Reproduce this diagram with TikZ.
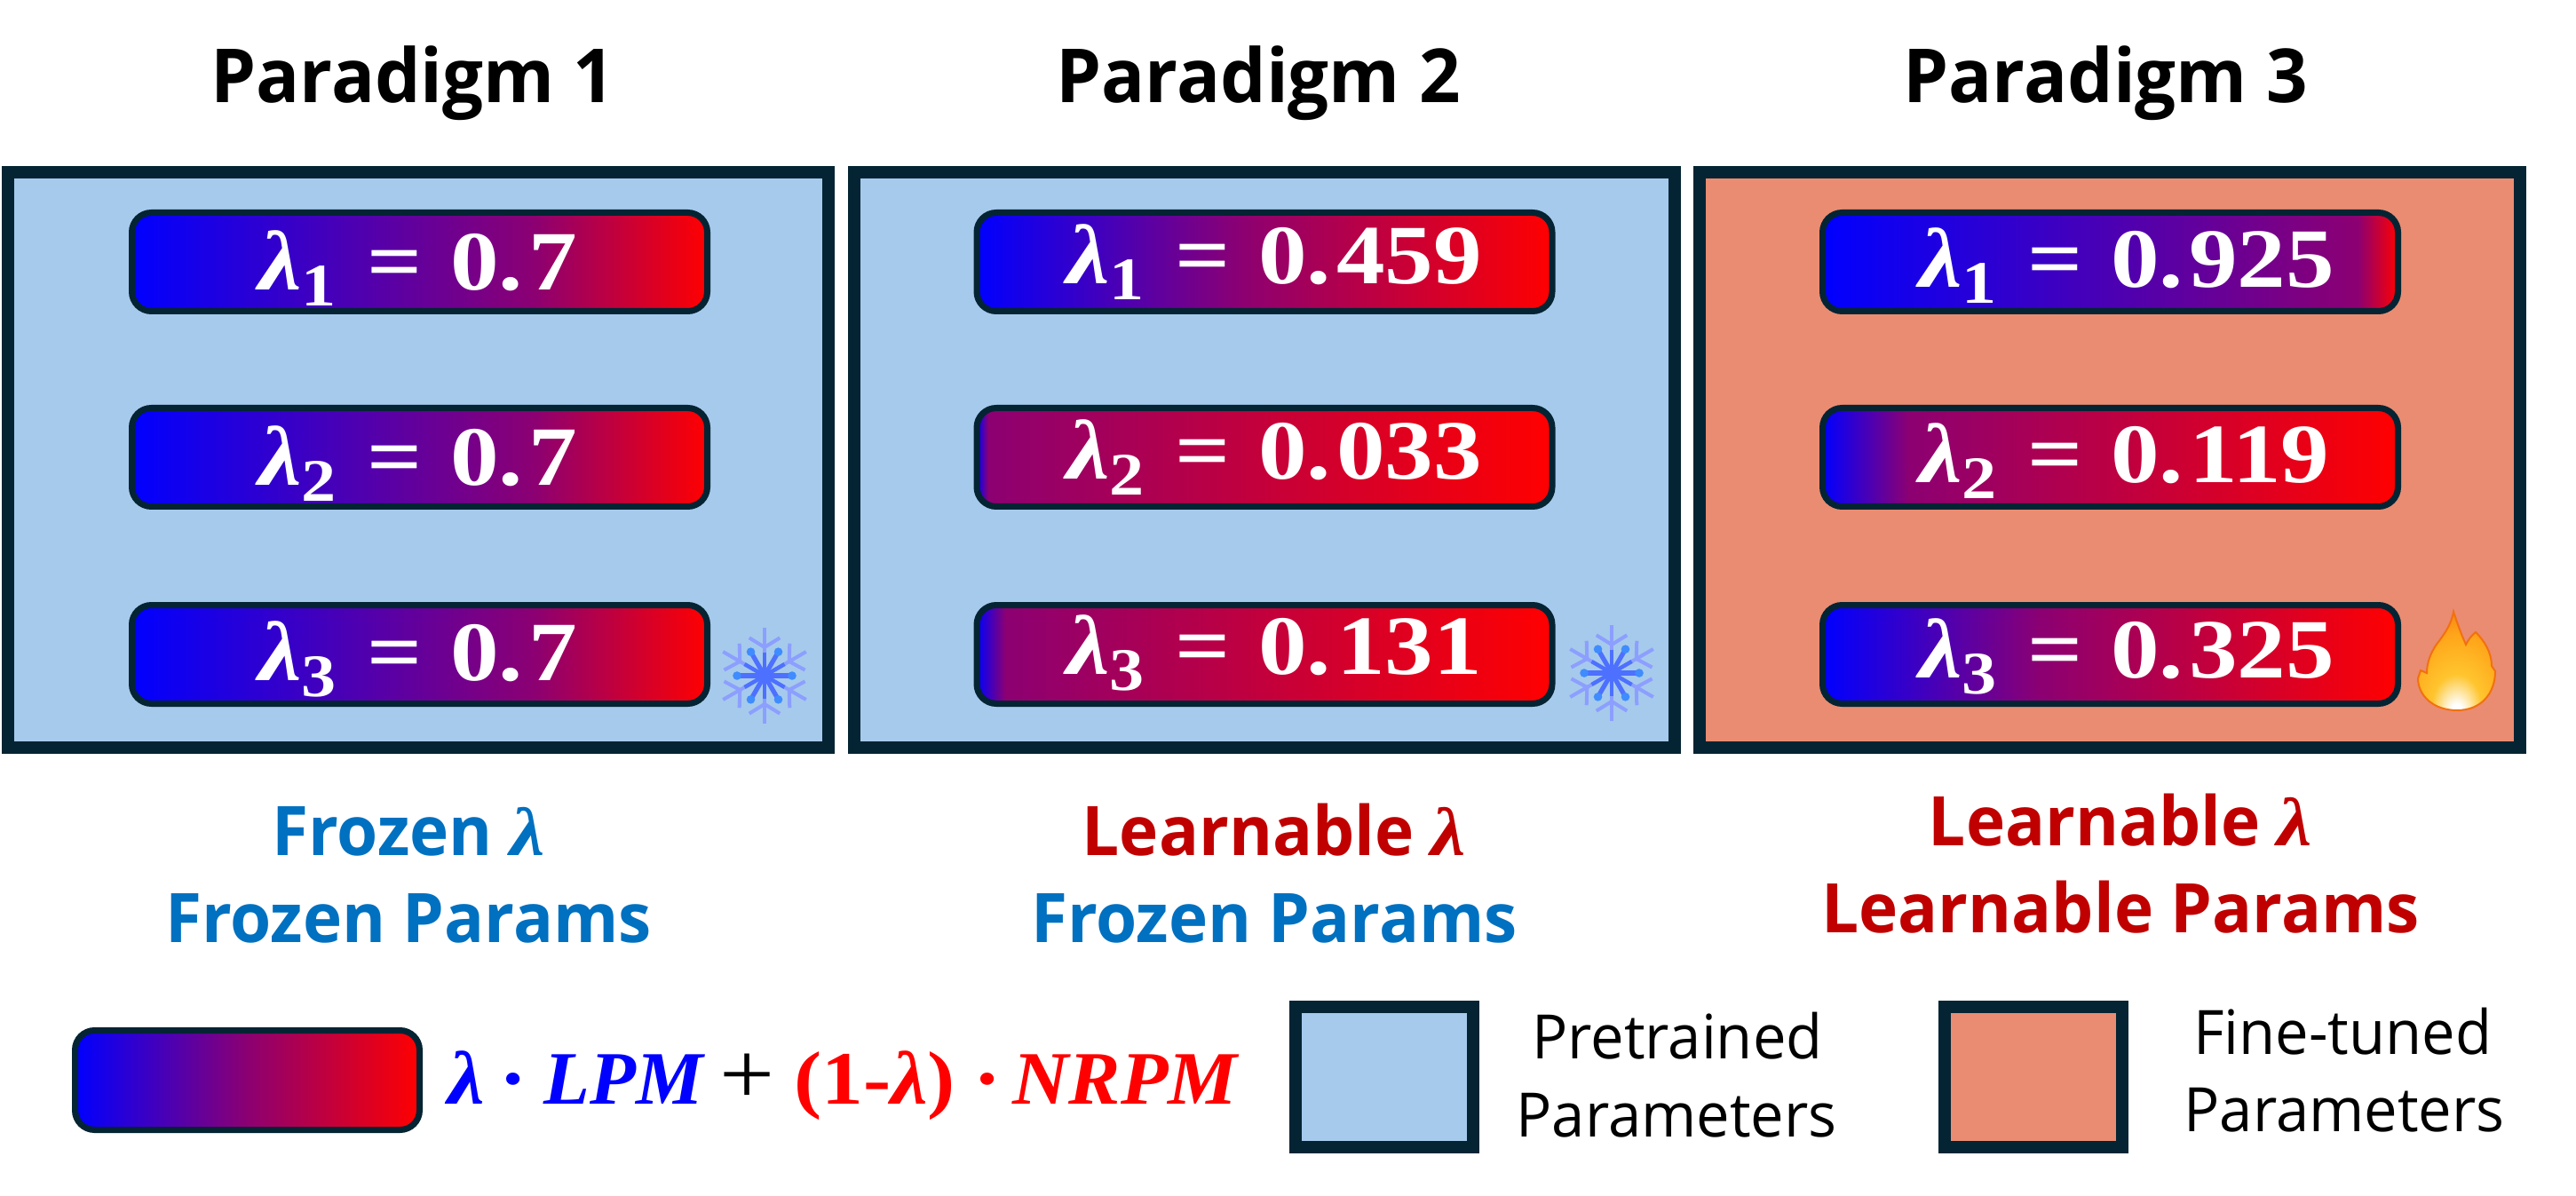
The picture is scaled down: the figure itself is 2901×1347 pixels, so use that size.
\documentclass[tikz,border=0pt]{standalone}
\usepackage{fontspec}
\usepackage{xcolor}
\usepackage{tikz}

\setmainfont[FakeStretch=0.97]{Open Sans}
\newfontfamily\lamfont[FakeStretch=1.15]{Liberation Serif}
\newfontfamily\eqfont[FakeStretch=1.1]{Liberation Serif}
\newfontfamily\lpmfont{Liberation Serif}
\newfontfamily\nrpmfont[FakeStretch=1.03]{Liberation Serif}

\definecolor{framecol}{HTML}{042433}
\definecolor{pretrained}{HTML}{A6CAEC}
\definecolor{finetuned}{HTML}{E98C71}
\definecolor{frozenblue}{HTML}{0070C0}
\definecolor{learnred}{HTML}{C00000}
\definecolor{midcol}{HTML}{8C0072}
\definecolor{flakepale}{HTML}{8C9FFF}
\definecolor{flakecore}{HTML}{4D70FF}
\definecolor{flakedot}{HTML}{3F8CFF}
\definecolor{fireyel}{HTML}{FFC52E}
\definecolor{fireamb}{HTML}{FFA51A}
\definecolor{fireorg}{HTML}{F2700F}

% blue on the left, red on the right, the middle colour sits at lambda
\newcommand{\defgrad}[2]{%
  \pgfdeclarehorizontalshading{#1}{100bp}{color(0bp)=(blue); color(25bp)=(blue);
    color(#2bp)=(midcol); color(75bp)=(red); color(100bp)=(red)}}
\defgrad{grad-1-1}{60}
\defgrad{grad-1-2}{60}
\defgrad{grad-1-3}{60}
\defgrad{grad-2-1}{48}
\defgrad{grad-2-2}{26}
\defgrad{grad-2-3}{27.5}
\defgrad{grad-3-1}{71.5}
\defgrad{grad-3-2}{32.5}
\defgrad{grad-3-3}{44}
\pgfdeclarehorizontalshading{grad-key}{100bp}{color(0bp)=(blue); color(25bp)=(blue);
  color(50bp)=(midcol); color(75bp)=(red); color(100bp)=(red)}
\pgfdeclareradialshading{firegrad}{\pgfpoint{0bp}{-27bp}}{color(0bp)=(white); color(4bp)=(white);
  color(16bp)=(fireyel); color(32bp)=(fireamb); color(48bp)=(fireorg); color(100bp)=(fireorg)}

\newcommand{\lamsym}{{\lamfont\bfseries\itshape λ}}
\newcommand{\lamval}[2]{\lamfont\bfseries
  \makebox[108pt][l]{{\itshape λ}\raisebox{-9pt}{\fontsize{34}{34}\selectfont #1}\hfill=\hspace{16pt}}%
  0.\hspace{3pt}#2}

\tikzset{
  panel/.style={draw=framecol, line width=7pt, minimum width=462pt, minimum height=324pt, inner sep=0pt},
  swatch/.style={draw=framecol, line width=7pt, minimum width=100pt, minimum height=79pt, inner sep=0pt},
  pill/.style={draw=framecol, line width=3.5pt, rounded corners=11pt, minimum width=324pt, minimum height=55.5pt, inner sep=0pt, shade},
  value/.style={anchor=base west, inner sep=0pt, text=white, font=\fontsize{47.5}{50}\selectfont},
  heading/.style={anchor=base, inner sep=0pt, font=\fontsize{42}{50}\selectfont\bfseries},
  caption/.style={anchor=base, inner sep=0pt, font=\fontsize{38.5}{45}\selectfont\bfseries},
  keytext/.style={anchor=base, inner sep=0pt, font=\fontsize{34.5}{40}\selectfont},
  formula/.style={anchor=base west, inner sep=0pt, font=\fontsize{42.5}{50}\selectfont\bfseries},
  snowflake/.pic={
    \foreach \a in {30,90,...,330} {
      \draw [flakepale, line width=2pt] (0,0) -- (\a:54);
      \draw [flakepale, line width=2pt] (\a+22:46) -- (\a:32) -- (\a-22:46);
    }
    \foreach \a in {0,60,...,300} {
      \draw [flakecore, line width=2.6pt] (0,0) -- (\a:31);
      \fill [flakedot] (\a:31) circle (2.4pt);
    }
    \foreach \a in {30,90,...,330}
      \draw [flakecore, line width=2.2pt] (0,0) -- (\a:26);
  }
}

\begin{document}
\begin{tikzpicture}[x=0.5pt, y=-0.5pt]

\useasboundingbox (0,0) rectangle (2901,1347);

\foreach \t/\x [count=\i] in {1/465, 2/1417, 3/2371}
  \node [heading] (title-\i) at (\x,116) {Paradigm \t};

\foreach \f/\x [count=\i] in {pretrained/471, pretrained/1423.5, finetuned/2375.5}
  \node [panel, fill=\f] (panel-\i) at (\x,518) {};

\foreach \p/\cx/\tx/\ty/\va/\vb/\vc in {1/472.5/291/327/7/7/7, 2/1424/1201/320/459/033/131, 3/2376.5/2161/324/925/119/325}
  \foreach \r/\cy/\dy/\v in {1/295/0/\va, 2/515/219.5/\vb, 3/737/439.5/\vc} {
    \node [pill, shading=grad-\p-\r] (pill-\p-\r) at (\cx,\cy) {};
    \node [value] (value-\p-\r) at (\tx,\ty+\dy) {\lamval{\r}{\v}};
  }

\pic at (861,761) {snowflake};
\pic at (1815,758) {snowflake};

% flame beside the last pill
\path [shade, shading=firegrad, draw=fireorg, line width=1pt]
  (2763,689) .. controls (2768,704) and (2772,715) .. (2777,726)
  .. controls (2780,720) and (2783,716) .. (2788,712)
  .. controls (2798,722) and (2806,735) .. (2806,750) -- (2810,756)
  .. controls (2810,780) and (2795,800) .. (2767,800)
  .. controls (2740,800) and (2723,783) .. (2723,764) -- (2726,755) -- (2733,758)
  .. controls (2733,745) and (2738,735) .. (2743,727)
  .. controls (2752,715) and (2760,705) .. (2763,689) -- cycle;

\foreach \t/\c/\x/\y [count=\i] in {
    {Frozen \lamsym}/frozenblue/460/963, {Frozen Params}/frozenblue/460/1061,
    {Learnable \lamsym}/learnred/1435/963, {Frozen Params}/frozenblue/1435/1061,
    {Learnable \lamsym}/learnred/2388/952, {Learnable Params}/learnred/2388/1050}
  \node [caption, text=\c] (caption-\i) at (\x,\y) {\t};

\node [pill, shading=grad-key, minimum width=194pt, minimum height=56pt] (pill-key) at (278.5,1216.5) {};

\node [formula, text=blue] (formula-a) at (504,1243) {\eqfont\itshape λ};
\node [formula, text=blue] (formula-b) at (562,1243) {\eqfont ·};
\node [formula, text=blue] (formula-c) at (612,1243) {\lpmfont\itshape LPM};
\node [formula, font=\eqfont\fontsize{50}{50}\selectfont] (formula-d) at (810,1243) {+};
\node [formula, text=red] (formula-e) at (894,1243) {\eqfont (1-{\itshape λ})};
\node [formula, text=red] (formula-f) at (1096,1243) {\eqfont ·};
\node [formula, text=red] (formula-g) at (1140,1243) {\nrpmfont\itshape NRPM};

\node [swatch, fill=pretrained] (swatch-1) at (1559,1213) {};
\node [swatch, fill=finetuned] (swatch-2) at (2290,1213) {};

\foreach \t/\x/\y [count=\i] in {Pretrained/1889/1192, Parameters/1888/1280, Fine-tuned/2638/1187, Parameters/2640/1274}
  \node [keytext] (key-\i) at (\x,\y) {\t};

\end{tikzpicture}
\end{document}
